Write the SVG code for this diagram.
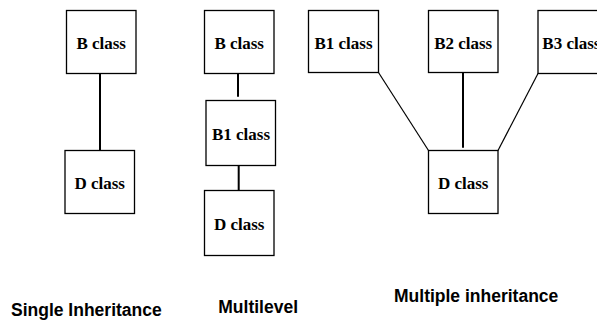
<svg xmlns="http://www.w3.org/2000/svg" width="597" height="320" viewBox="0 0 597 320">
<style>
.box{fill:#fff;stroke:#000;stroke-width:1.3}
.lbl{font-family:"Liberation Serif","Times New Roman",serif;font-weight:bold;font-size:17px;fill:#000;text-anchor:middle}
.cap{font-family:"Liberation Sans",Arial,sans-serif;font-weight:bold;font-size:17.5px;fill:#000}
.ln{stroke:#000;fill:none}
.thick{stroke-width:2}
.thin{stroke-width:1.2}
</style>
<rect width="597" height="320" fill="#fff"/>
<g id="connectors">
<line class="ln thick" x1="100" y1="73.5" x2="100" y2="150.5"/>
<line class="ln thick" x1="238" y1="72" x2="238" y2="96.7"/>
<line class="ln thick" x1="238.7" y1="165.3" x2="238.7" y2="190.7"/>
<line class="ln thin" x1="378.5" y1="72.5" x2="428.5" y2="150.5"/>
<line class="ln thick" x1="463" y1="70.7" x2="463" y2="147.7"/>
<line class="ln thin" x1="538" y1="73.5" x2="498" y2="150.5"/>
</g>
<g id="single-b"><rect class="box" x="66.5" y="10.5" width="69.5" height="63"/><text class="lbl" x="101.2" y="49.3">B class</text></g>
<g id="single-d"><rect class="box" x="65" y="150.5" width="69.5" height="63"/><text class="lbl" x="99.7" y="189.3">D class</text></g>
<g id="multi-b"><rect class="box" x="204.5" y="10.5" width="69.5" height="63"/><text class="lbl" x="239.2" y="49.3">B class</text></g>
<g id="multi-b1"><rect class="box" x="206" y="100.5" width="69.5" height="65"/><text class="lbl" x="241" y="140">B1 class</text></g>
<g id="multi-d"><rect class="box" x="204.5" y="190.5" width="69.5" height="65"/><text class="lbl" x="239.2" y="230">D class</text></g>
<g id="mi-b1"><rect class="box" x="308.5" y="10.5" width="70" height="62"/><text class="lbl" x="343.5" y="49">B1 class</text></g>
<g id="mi-b2"><rect class="box" x="428.5" y="10.5" width="69.5" height="62"/><text class="lbl" x="463.2" y="49">B2 class</text></g>
<g id="mi-b3"><rect class="box" x="538" y="10.5" width="70" height="63"/><text class="lbl" x="542.3" y="49.3" style="text-anchor:start">B3 class</text></g>
<g id="mi-d"><rect class="box" x="428.5" y="150.5" width="69.5" height="63"/><text class="lbl" x="463.2" y="189.3">D class</text></g>
<g id="captions">
<text class="cap" x="11" y="315.7">Single Inheritance</text>
<text class="cap" x="218.3" y="312.7">Multilevel</text>
<text class="cap" x="394" y="302.3">Multiple inheritance</text>
</g>
</svg>
